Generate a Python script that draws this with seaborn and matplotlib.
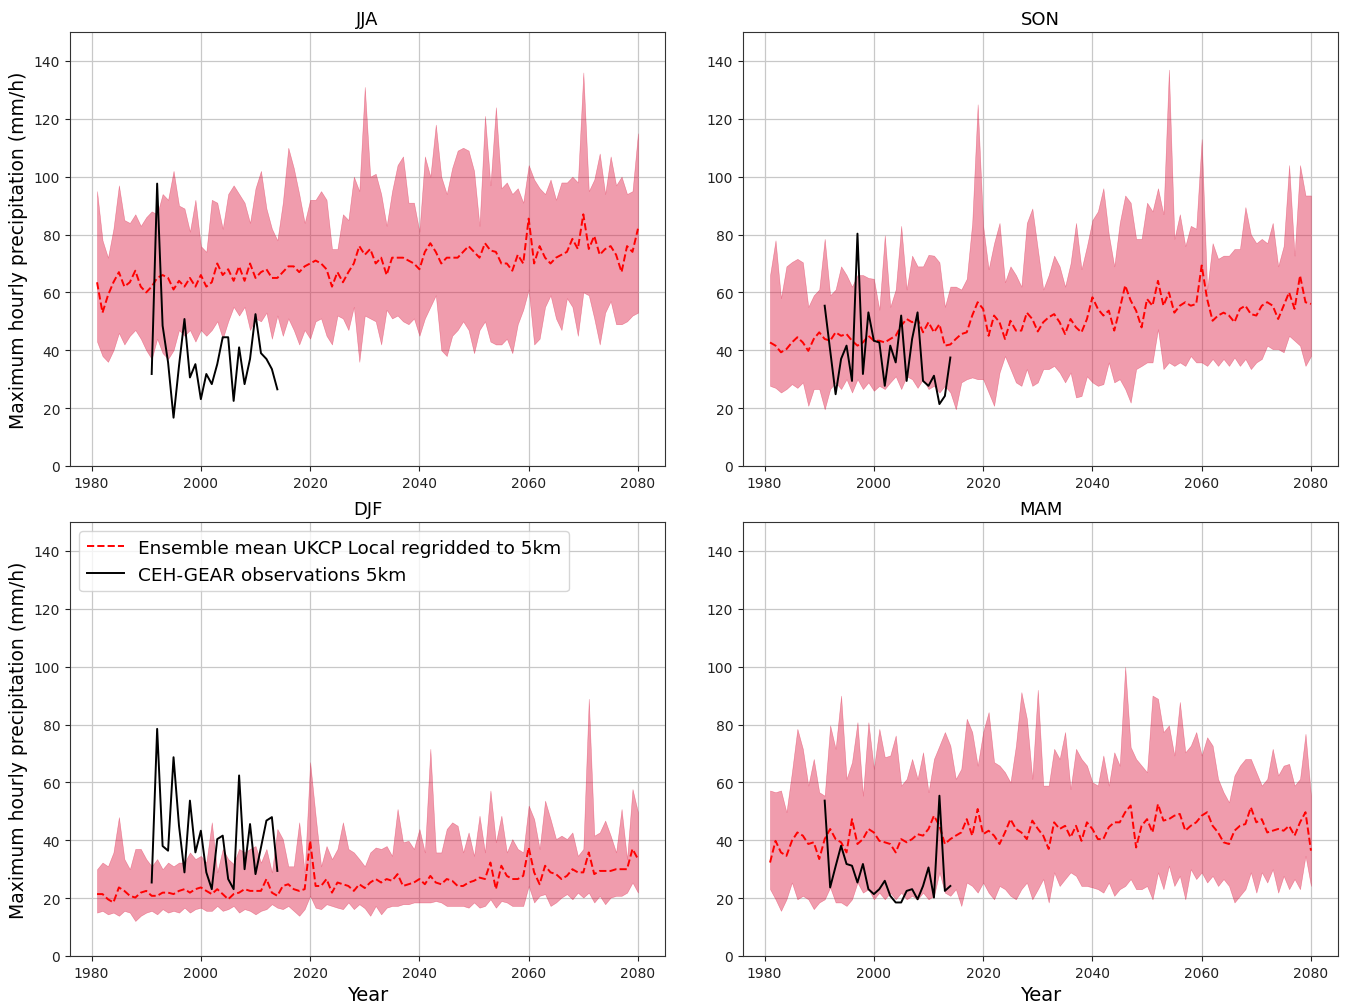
import matplotlib
matplotlib.use("Agg")
import matplotlib.pyplot as plt
import seaborn as sns
import numpy as np

# ---------------- data ----------------
years = np.arange(1981, 2081)
obs_years = np.arange(1991, 2015)

jja_upper = [95, 78, 72, 82, 97, 85, 84, 87, 83, 86,
             88, 87, 94, 92, 102, 90, 89, 81, 92, 76,
             74, 92, 91, 82, 94, 97, 94, 91, 84, 96,
             102, 89, 82, 78, 91, 110, 103, 94, 84, 92,
             92, 95, 92, 75, 75, 87, 85, 100, 95, 131,
             100, 101, 94, 83, 95, 104, 107, 91, 91, 81,
             107, 100, 118, 100, 94, 103, 109, 110, 109, 102,
             83, 121, 97, 124, 96, 98, 94, 96, 91, 104,
             99, 96, 94, 99, 92, 98, 98, 100, 98, 136,
             95, 99, 108, 94, 107, 97, 100, 94, 95, 115]
jja_lower = [43, 38, 36, 40, 46, 42, 45, 47, 44, 40,
             37, 44, 39, 37, 40, 47, 45, 47, 43, 47,
             45, 47, 50, 44, 50, 55, 52, 55, 47, 51,
             50, 53, 44, 52, 45, 51, 47, 42, 47, 44,
             50, 51, 45, 42, 52, 51, 47, 55, 36, 52,
             51, 50, 42, 54, 51, 52, 50, 49, 51, 45,
             51, 55, 59, 40, 38, 45, 47, 50, 47, 39,
             47, 50, 43, 42, 42, 44, 39, 49, 54, 61,
             42, 44, 55, 59, 51, 47, 58, 55, 45, 60,
             59, 51, 42, 53, 57, 49, 49, 50, 52, 53]
jja_mean = [63.5, 53, 59, 63.5, 67, 62, 63.5, 67.5, 62, 60,
            62, 65, 66, 65, 61, 64, 62, 65, 62, 66,
            62, 63.5, 70, 66, 68, 64, 69, 64, 70, 65,
            67, 68, 65, 65, 67, 69, 69, 67, 69, 70,
            71, 70, 68, 62, 67, 63.5, 67, 70, 76, 73,
            75, 70, 72, 66, 72, 72, 72, 71, 70, 68,
            74, 77, 74, 70, 72, 72, 72, 74, 76, 74,
            72, 77, 74.5, 74, 70, 70, 67.5, 73, 70, 85.5,
            70, 76, 72, 70, 72, 73, 74, 78.5, 75, 87,
            75, 79.5, 73, 75, 76, 73, 67, 76, 74, 82]
jja_obs = [31.8, 97.6, 48.5, 35.8, 16.7, 34.6, 50.8, 30.6, 35.2, 23.1,
           31.8, 28.3, 35.2, 44.5, 44.5, 22.5, 41, 28.3, 37, 52.5,
           39, 37, 33.5, 26.5]

son_upper = [66, 78, 58, 69, 70.5, 71.6, 70.4, 55, 59, 61,
             78.5, 59, 61, 69, 66, 62, 66, 66, 65, 64.7,
             54, 79.7, 55, 61, 83, 61, 72.7, 69, 69, 73,
             72.7, 70.4, 55, 62, 62, 61, 64.7, 84, 125, 83,
             68, 77, 84, 63.5, 69, 66, 62, 84, 89, 75,
             61, 66, 72.7, 69, 62, 70, 84, 68, 76, 85,
             88, 96, 80, 69, 84, 93.5, 91, 78.5, 78.5, 91,
             88, 96, 87, 137, 78.5, 87, 76, 83, 82, 113,
             61, 77, 71.6, 72.7, 72.7, 75, 75, 89.5, 80, 77,
             78.5, 77, 84, 69, 76, 104, 72.7, 104, 93.5, 93.5]
son_lower = [27.7, 27, 25.4, 26.6, 28.3, 27, 28.9, 20.8, 26.6, 26.6,
             19.6, 26.6, 28.9, 26.6, 30, 25.4, 30, 26.6, 28.9, 26,
             27.7, 26.6, 28.9, 31, 26.6, 31, 30, 27, 30, 26.6,
             27.7, 25.4, 27.7, 25.4, 19.6, 28.9, 30, 30.6, 30, 30,
             25.4, 20.8, 32.3, 38, 33.5, 28.9, 27.7, 33.5, 27.7, 28.9,
             33.5, 33.5, 34.6, 32.3, 28.9, 32.3, 23.7, 24.2, 31, 28.9,
             27.7, 28.3, 35.8, 28.9, 30, 26.6, 21.9, 33.5, 34.6, 35.8,
             35.8, 47.3, 33.5, 35.8, 34.6, 35.8, 34.6, 38, 35.8, 35.8,
             34.6, 37, 34.6, 37, 34.6, 37.5, 34.6, 37, 33.5, 35.8,
             37, 41.6, 40.4, 40.4, 39.3, 45, 43.3, 41.6, 34.6, 38]
son_mean = [42.7, 41.6, 39.3, 40.4, 42.7, 44.5, 42.7, 39.8, 43.9, 46.2,
            43.9, 43.3, 46.2, 45, 45.6, 43.3, 41.6, 42.7, 45, 43.3,
            43.3, 42.7, 43.9, 45, 48.5, 50.8, 49.7, 50.8, 46.2, 49.7,
            46.2, 49, 41.6, 42, 43.9, 45.6, 46.2, 52, 56.6, 54.3,
            45, 52, 49.7, 43.9, 50.2, 46.8, 46.8, 53, 50.8, 46.5,
            49.7, 51.4, 52.5, 49.7, 45.6, 50.8, 47.9, 46.2, 50.8, 58.3,
            54.3, 52, 53.7, 46.8, 54.3, 62.4, 57.2, 53.7, 47.9, 57.7,
            55.4, 64, 55.4, 60, 53, 55.4, 56.6, 55.4, 56, 69.3,
            57.7, 50.2, 52, 53, 52, 49.7, 54.3, 55.4, 52.5, 52,
            55.4, 56.6, 55.4, 50.8, 55.4, 60, 54.3, 65.8, 56.6, 56]
son_obs = [55.4, 40, 24.8, 37, 41.6, 29.4, 80.3, 31.8, 53.1, 43.3,
           42.7, 27.7, 41.6, 35.8, 52, 29.4, 43.9, 53.1, 29.4, 27.7,
           31.2, 21.4, 24.2, 37.5]

djf_upper = [30, 32.3, 31, 35.8, 48, 33.5, 30, 37, 37, 33.5,
             31, 33.5, 30, 32.3, 31, 32.3, 32.3, 35.8, 33.5, 34.6,
             32.3, 46.2, 28.9, 37, 33.5, 31.8, 37, 35.8, 37, 38,
             32.3, 37, 28.9, 43.9, 40.4, 31, 31, 46.2, 28.9, 67,
             48.5, 31, 38, 33.5, 37, 46.2, 37, 35.8, 33.5, 31,
             35.8, 37.5, 37, 38, 34.6, 50.8, 39.3, 39.8, 37, 43.9,
             35.8, 71.6, 35.8, 35.8, 43.9, 46.2, 45, 35.8, 42.7, 34.6,
             48.5, 35.8, 57.2, 39.3, 48.5, 35.8, 40.4, 37, 35.8, 52,
             47.3, 37, 53.7, 47.3, 40.4, 41.6, 40.4, 42.7, 34.6, 37,
             88.9, 41.6, 42.7, 46.8, 41.6, 35.8, 50.8, 33.5, 57.7, 49.7]
djf_lower = [15, 15.6, 14.4, 15, 13.9, 15.6, 15, 12.1, 13.9, 15,
             15.6, 14.4, 16.2, 15, 15.6, 15, 16.7, 15, 16.2, 16.7,
             15.6, 15.6, 17.3, 15.6, 16.2, 17.3, 15, 16.2, 15.6, 14.4,
             15.6, 16.2, 17.9, 16.7, 16.2, 17.3, 15.6, 13.9, 16.2, 20.8,
             16.7, 16.2, 17.9, 17.3, 16.7, 16.2, 18.5, 16.2, 17.9, 16.5,
             13.9, 17.3, 14.4, 16.7, 17.3, 17.3, 17.9, 17.9, 18.5, 18.5,
             18.5, 18.5, 19, 18.5, 17.3, 17.3, 17.3, 17.3, 16.7, 18.5,
             16.7, 17.3, 19.6, 16.7, 19, 18.5, 17.3, 17.3, 17.3, 24.2,
             18.5, 20.8, 21.4, 17.3, 18.5, 20.2, 21.4, 19.6, 21.9, 20.2,
             21.9, 18.5, 20.8, 17.9, 20.2, 20.8, 20.8, 21.9, 25.4, 21.9]
djf_mean = [21.4, 21.4, 19.6, 18.5, 23.7, 22.5, 20.8, 20.2, 21.9, 22.5,
            20.8, 20.8, 21.9, 21.9, 21.4, 22.5, 23.1, 21.9, 23.1, 23.7,
            22.5, 21.4, 23.1, 21.4, 19.6, 21.4, 21.9, 23.1, 22.5, 22.5,
            22.5, 26.6, 21.9, 20.8, 24.2, 24.8, 23.1, 22.5, 23.1, 39.8,
            24.2, 24.2, 26.6, 21.9, 25.4, 24.8, 24.2, 22.5, 24.8, 23.5,
            25.4, 26.6, 25.4, 26.6, 26, 28.3, 24.2, 24.8, 25.4, 26.6,
            24.8, 27.7, 25.4, 24.8, 26.6, 26, 24.2, 24.2, 25.4, 26,
            27.1, 26.6, 32.3, 23.1, 31.2, 27.7, 26.6, 26.6, 27.7, 37.5,
            28.9, 24.8, 31.2, 28.9, 28.3, 26.6, 27.7, 30, 28.9, 28.9,
            35.8, 28.3, 29.4, 29.4, 29.4, 30, 30, 30, 37, 33.5]
djf_obs = [25.4, 78.5, 38, 36.4, 68.7, 45, 28.9, 53.7, 35.8, 43.3,
           28.9, 23.1, 40.4, 41.6, 26.6, 23.1, 62.4, 30, 45.6, 28.3,
           37.5, 46.8, 48, 29.4]

mam_upper = [57.2, 56.6, 57.2, 49.7, 63.5, 78.5, 71.6, 58.9, 68.1, 56.6,
             55.4, 79.7, 71.6, 90, 61.2, 67, 80.8, 55.4, 80.8, 64.7,
             78.5, 68.7, 69.3, 76.2, 58.9, 61.2, 68.1, 61.2, 70.4, 56.6,
             68.1, 72.7, 77.4, 72.7, 61.2, 64.7, 82, 77.4, 65.8, 77.4,
             84.3, 67, 65.8, 63.5, 60, 72.7, 91.2, 82, 61.2, 92,
             58.9, 58.9, 71.6, 68.1, 77.4, 57.7, 71.6, 68.1, 65.8, 60,
             58.9, 69.3, 58.9, 70.4, 65.8, 99.9, 72.2, 68.1, 65.8, 63.5,
             90, 88.9, 77.4, 79.7, 69.3, 87.8, 70.4, 72.7, 77.4, 69.3,
             75.6, 72.7, 61.2, 56.6, 53.1, 62.4, 65.8, 68.1, 68.1, 63.5,
             58.9, 61.2, 71.6, 62.4, 65.8, 66.4, 58.9, 61.2, 76.8, 55.4]
mam_lower = [23.1, 19.6, 15.6, 19.6, 25.4, 19.6, 20.8, 19.6, 16.2, 18.5,
             19.6, 23.7, 18.5, 18.5, 17.3, 19.6, 25.4, 21.9, 23.1, 19.6,
             21.9, 19.6, 21.9, 19.6, 21.9, 19.6, 20.8, 19.6, 21.9, 19.6,
             20.8, 28.9, 21.9, 20.8, 23.1, 17.3, 25.4, 24.2, 21.9, 25.4,
             21.9, 19.6, 24.2, 23.1, 20.8, 19.6, 23.1, 25.4, 19.6, 23,
             26.6, 18.5, 28.9, 24.2, 26.6, 28.9, 27.7, 24.2, 24.2, 23.7,
             23.1, 21.9, 25.4, 20.8, 23.1, 24.2, 26.6, 23.1, 23.1, 24.2,
             19.6, 28.9, 23.1, 31.2, 24.2, 27.7, 19.6, 30, 26.6, 28.9,
             25.4, 27.7, 24.2, 26.6, 24.2, 18.5, 20.8, 23.1, 28.9, 21.9,
             28.9, 25.4, 30, 21.9, 27.7, 23.1, 26.6, 23.1, 34.6, 24.2]
mam_mean = [32.3, 39.8, 35.8, 34.6, 39.8, 42.7, 41.6, 38.7, 39.3, 33.5,
            40.4, 43.9, 40.4, 39.3, 35.8, 47.3, 38.7, 40.4, 43.9, 42.7,
            39.8, 39.3, 38.7, 35.8, 40.4, 39.3, 40.4, 42.1, 41.6, 43.9,
            48.5, 45, 38.7, 40.4, 41.6, 42.7, 47.3, 41.6, 50.8, 42.1,
            43.3, 41.6, 38.7, 42.7, 47.3, 43.9, 42.7, 40.4, 46.8, 44,
            41.6, 37, 46.2, 43.9, 45, 41, 45, 39.8, 46.2, 43.9,
            40.4, 40.4, 44.5, 46.2, 46.2, 49.7, 52, 37.5, 45, 47.3,
            42.7, 52.5, 46.8, 47.3, 48.5, 49.1, 43.3, 45, 46.2, 48.5,
            49.7, 45, 42.7, 39.3, 38.7, 43.3, 45, 45.6, 51.4, 46.2,
            47.3, 42.7, 43.3, 43.9, 43.3, 45, 41.6, 46.2, 49.7, 36.4]
mam_obs = [53.7, 23.7, 31, 38.1, 31.8, 31.2, 25.4, 31.8, 23.1, 21.4,
           23.1, 26, 20.8, 18.5, 18.5, 22.5, 23.1, 19.6, 24.2, 30.6,
           20.2, 55.4, 22.5, 24.2]

seasons = ["JJA", "SON", "DJF", "MAM"]
data = {
    "JJA": (jja_lower, jja_upper, jja_mean, jja_obs),
    "SON": (son_lower, son_upper, son_mean, son_obs),
    "DJF": (djf_lower, djf_upper, djf_mean, djf_obs),
    "MAM": (mam_lower, mam_upper, mam_mean, mam_obs),
}
mean_label = "Ensemble mean UKCP Local regridded to 5km"
obs_label = "CEH-GEAR observations 5km"

# ---------------- figure ----------------
plt.rcParams['font.family'] = ['DejaVu Sans']
W, H = 1348, 1004
fig = plt.figure(figsize=(W / 100, H / 100), dpi=100)

boxes = {  # left, top, right, bottom in pixels
    "JJA": (70, 33, 665, 467),
    "SON": (743, 33, 1338, 467),
    "DJF": (70, 523, 665, 957),
    "MAM": (743, 523, 1338, 957),
}

for s in seasons:
    l, t, r, b = boxes[s]
    ax = fig.add_axes([l / W, 1 - b / H, (r - l) / W, (b - t) / H])
    lower, upper, mean, obs = data[s]
    ax.set_axisbelow(True)
    ax.grid(True, color='#c8c8c8', linewidth=0.9)
    ax.fill_between(years, lower, upper, color='crimson', alpha=0.42, linewidth=0.4)
    is_leg = (s == "DJF")
    sns.lineplot(x=years, y=mean, ax=ax, color='red', linestyle='--', linewidth=1.4,
                 label=mean_label if is_leg else None, legend=False)
    sns.lineplot(x=obs_years, y=obs, ax=ax, color='black', linewidth=1.4,
                 label=obs_label if is_leg else None, legend=False)
    ax.set_xlim(1976.05, 2084.95)
    ax.set_ylim(0, 150)
    ax.set_xticks([1980, 2000, 2020, 2040, 2060, 2080])
    ax.set_yticks([0, 20, 40, 60, 80, 100, 120, 140])
    ax.tick_params(labelsize=10, colors='#222222')
    ax.set_title(s, fontsize=13, pad=6)
    ax.set_xlabel("Year" if s in ("DJF", "MAM") else "", fontsize=14)
    ax.set_ylabel("Maximum hourly precipitation (mm/h)" if s in ("JJA", "DJF") else "",
                  fontsize=13.5)
    for sp in ax.spines.values():
        sp.set_color('#333333')
    if is_leg:
        ax.legend(loc='upper left', fontsize=13.3, framealpha=0.8, handlelength=2.0)

fig.savefig("out.png", dpi=100)
